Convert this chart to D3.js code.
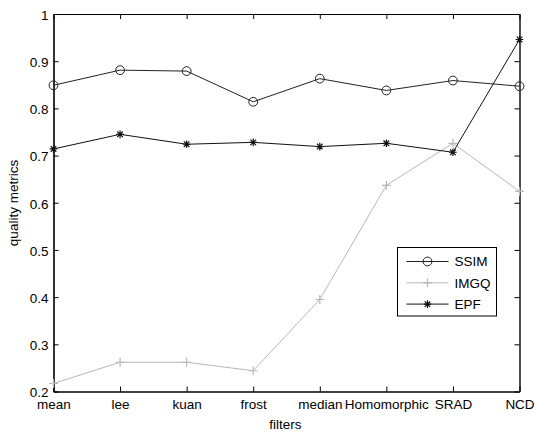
<!DOCTYPE html>
<html><head><meta charset="utf-8">
<script src="https://cdn.jsdelivr.net/npm/d3@7/dist/d3.min.js"></script>
<style>body{margin:0;background:#fff}svg{display:block}text{font-family:"Liberation Sans",Arial,sans-serif}</style>
</head><body>
<script>
const categories = ["mean","lee","kuan","frost","median","Homomorphic","SRAD","NCD"];
const ssim = [0.849,0.881,0.879,0.814,0.863,0.838,0.859,0.847];
const imgq = [0.217,0.262,0.262,0.244,0.395,0.637,0.726,0.624];
const epf  = [0.714,0.745,0.724,0.728,0.719,0.726,0.707,0.946];
const yTicks = [0.2,0.3,0.4,0.5,0.6,0.7,0.8,0.9,1];
const seriesNames = ["SSIM","IMGQ","EPF"];

const W=535,H=432,FS=13.5;
const m={l:53.5,t:14,r:519.5,b:391.5};
const svg=d3.select("body").append("svg").attr("width",W).attr("height",H);
const x=d3.scalePoint().domain(categories).range([m.l,m.r]);
const y=d3.scaleLinear().domain([0.2,1]).range([m.b,m.t]);

// axes
const fmt=d=>d===1?"1":d3.format(".1f")(d);
const ax=svg.append("g").attr("transform",`translate(${m.l},0)`).call(d3.axisLeft(y).tickValues(yTicks).tickFormat(fmt).tickSizeInner(-5).tickSizeOuter(0).tickPadding(5));
const axR=svg.append("g").attr("transform",`translate(${m.r},0)`).call(d3.axisRight(y).tickValues(yTicks).tickFormat("").tickSizeInner(-5).tickSizeOuter(0));
const axB=svg.append("g").attr("transform",`translate(0,${m.b})`).call(d3.axisBottom(x).tickSizeInner(-5).tickSizeOuter(0).tickPadding(8));
const axT=svg.append("g").attr("transform",`translate(0,${m.t})`).call(d3.axisTop(x).tickFormat("").tickSizeInner(-5).tickSizeOuter(0));
[ax,axR,axB,axT].forEach(g=>{g.select(".domain").attr("stroke","#000");g.selectAll(".tick line").attr("stroke","#000");});
ax.select(".domain").attr("stroke-width",1.6);
axB.select(".domain").attr("stroke-width",1.6);
axR.select(".domain").attr("stroke-width",1.6).attr("stroke","#222");
ax.selectAll("text").attr("font-size",FS).attr("fill","#000").attr("dy","0.4em");
axB.selectAll("text").attr("font-size",FS).attr("fill","#000").attr("dy","0.71em");

svg.append("text").attr("x",285.5).attr("y",429).attr("text-anchor","middle").attr("font-size",FS).text("filters");
svg.append("text").attr("transform","translate(18,203) rotate(-90)").attr("text-anchor","middle").attr("font-size",FS).text("quality metrics");

const line=d3.line().x((d,i)=>x(categories[i])).y(d=>y(d));
const colors={SSIM:"#222",IMGQ:"#b8b8b8",EPF:"#111"};
const data={SSIM:ssim,IMGQ:imgq,EPF:epf};

function marker(g,name,cx,cy){
  const c=colors[name];
  if(name==="SSIM"){
    g.append("circle").attr("cx",cx).attr("cy",cy).attr("r",4.4).attr("fill","none").attr("stroke",c).attr("stroke-width",1);
  } else if(name==="IMGQ"){
    const s=4.5;
    g.append("path").attr("d",`M${cx-s},${cy}H${cx+s}M${cx},${cy-s}V${cy+s}`).attr("stroke",c).attr("stroke-width",1.2);
  } else {
    const s=3.8,d=2.8;
    g.append("path").attr("d",`M${cx-s},${cy}H${cx+s}M${cx},${cy-s}V${cy+s}M${cx-d},${cy-d}L${cx+d},${cy+d}M${cx-d},${cy+d}L${cx+d},${cy-d}`).attr("stroke",c).attr("stroke-width",1.2);
  }
}

seriesNames.forEach(name=>{
  const vals=data[name];
  const g=svg.append("g");
  g.append("path").attr("d",line(vals)).attr("fill","none").attr("stroke",colors[name]).attr("stroke-width",1);
  vals.forEach((v,i)=>marker(g,name,x(categories[i]),y(v)));
});

// legend
const lg=svg.append("g");
lg.append("rect").attr("x",397.5).attr("y",247.5).attr("width",99).attr("height",68.5).attr("fill","#fff").attr("stroke","#000").attr("stroke-width",1);
seriesNames.forEach((name,i)=>{
  const yy=261.5+i*21.3;
  lg.append("line").attr("x1",406.5).attr("x2",448.5).attr("y1",yy).attr("y2",yy).attr("stroke",colors[name]).attr("stroke-width",1);
  marker(lg,name,427.5,yy);
  lg.append("text").attr("x",454.5).attr("y",yy).attr("dy","0.36em").attr("font-size",FS).text(name);
});
</script>
</body></html>
